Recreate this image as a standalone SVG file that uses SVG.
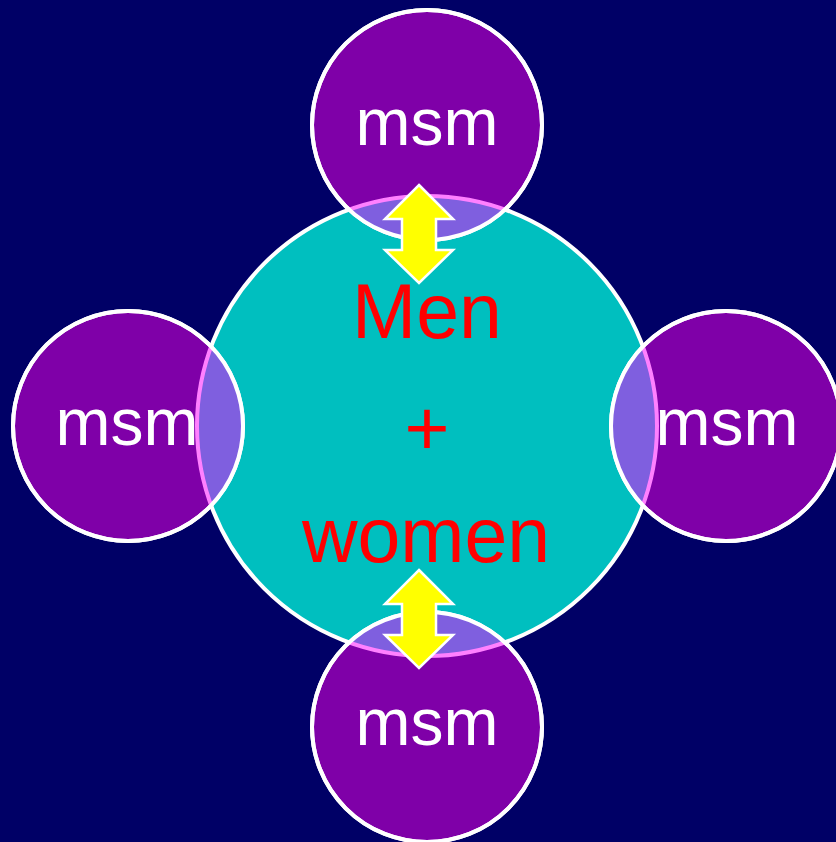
<svg xmlns="http://www.w3.org/2000/svg" width="836" height="842" viewBox="0 0 836 842">
  <style>
    .bg { fill: #000066; }
    .big { fill: #00BFBF; stroke: #FFFFFF; stroke-width: 4; }
    .small { fill: #7F00A8; stroke: #FFFFFF; stroke-width: 4; }
    .lens { fill: #7F5FDF; stroke: #FF80FF; stroke-width: 4; }
    .ring { fill: none; stroke: #FFFFFF; stroke-width: 4; }
    .msm { font-family: "Liberation Sans", Arial, sans-serif; font-size: 66px; fill: #FFFFFF; text-anchor: middle; }
    .red { font-family: "Liberation Sans", Arial, sans-serif; font-size: 77px; fill: #FF0000; text-anchor: middle; }
    .arrow { fill: #FFFF00; stroke: #FFFFFF; stroke-width: 2.5; stroke-linejoin: miter; }
  </style>
  <defs>
    <clipPath id="clipTop"><circle cx="427" cy="125" r="115"/></clipPath>
    <clipPath id="clipLeft"><circle cx="128" cy="426" r="115"/></clipPath>
    <clipPath id="clipRight"><circle cx="726" cy="426" r="115"/></clipPath>
    <clipPath id="clipBottom"><circle cx="427" cy="727" r="115"/></clipPath>
    <path id="dblarrow" d="M0,0 L34,34 L17,34 L17,65 L34,65 L0,98 L-34,65 L-17,65 L-17,34 L-34,34 Z"/>
  </defs>
  <rect class="bg" x="0" y="0" width="836" height="842"/>

  <g id="center">
    <circle class="big" cx="427" cy="426" r="230"/>
  </g>

  <g id="msm-top">
    <circle class="small" cx="427" cy="125" r="115"/>
    <circle class="lens" cx="427" cy="426" r="230" clip-path="url(#clipTop)"/>
    <circle class="ring" cx="427" cy="125" r="115"/>
    <text class="msm" x="427" y="145">msm</text>
  </g>

  <g id="msm-left">
    <circle class="small" cx="128" cy="426" r="115"/>
    <circle class="lens" cx="427" cy="426" r="230" clip-path="url(#clipLeft)"/>
    <circle class="ring" cx="128" cy="426" r="115"/>
    <text class="msm" x="127" y="445">msm</text>
  </g>

  <g id="msm-right">
    <circle class="small" cx="726" cy="426" r="115"/>
    <circle class="lens" cx="427" cy="426" r="230" clip-path="url(#clipRight)"/>
    <circle class="ring" cx="726" cy="426" r="115"/>
    <text class="msm" x="727" y="445">msm</text>
  </g>

  <g id="msm-bottom">
    <circle class="small" cx="427" cy="727" r="115"/>
    <circle class="lens" cx="427" cy="426" r="230" clip-path="url(#clipBottom)"/>
    <circle class="ring" cx="427" cy="727" r="115"/>
    <text class="msm" x="427" y="745">msm</text>
  </g>

  <g id="center-label">
    <text class="red" x="427" y="338">Men</text>
    <text class="red" x="427" y="455">+</text>
    <text class="red" x="426" y="562">women</text>
  </g>

  <g id="connectors">
    <use href="#dblarrow" class="arrow" transform="translate(419,185)"/>
    <use href="#dblarrow" class="arrow" transform="translate(419,570)"/>
  </g>
</svg>
